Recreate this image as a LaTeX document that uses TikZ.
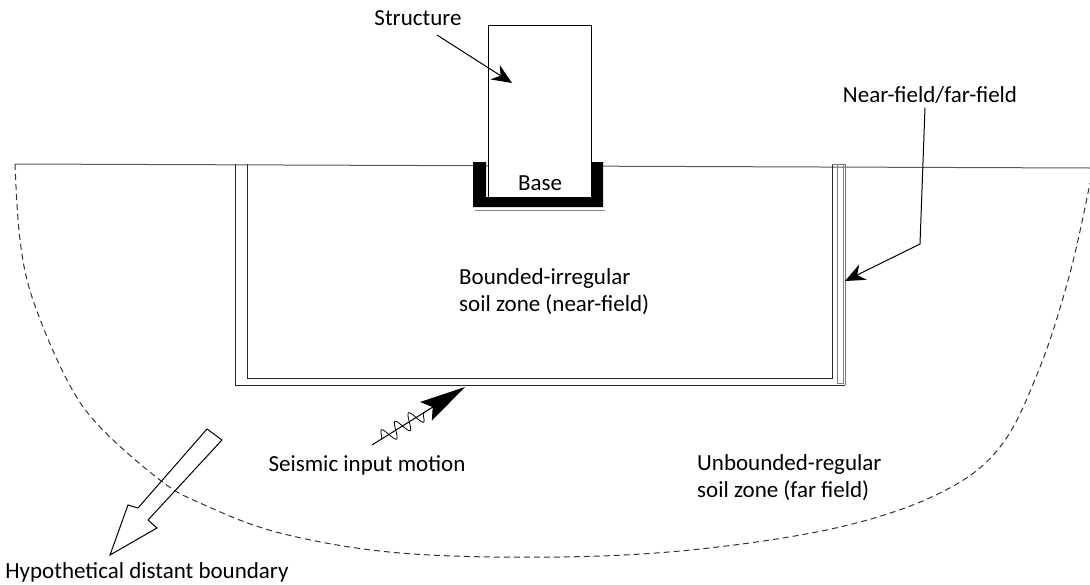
\documentclass[tikz,border=0pt]{standalone}
\usepackage{fontspec}
\setmainfont{Carlito}
\usetikzlibrary{arrows.meta,positioning,calc,decorations.pathmorphing}

\tikzset{
  lbl/.style={font=\fontsize{23}{27}\selectfont, inner sep=0pt},
  wall/.style={draw=black!85, line width=1pt},
  pointer/.style={-{Stealth[length=20pt,width=17pt]}, line width=1pt},
  farbound/.style={dash pattern=on 6pt off 4pt, line width=1pt, black!80}
}

\begin{document}
\begin{tikzpicture}[x=1pt,y=-1pt]
        \useasboundingbox (0,0) rectangle (1090,584);

        % Ground surface
        \draw[line width=1pt, black!65] (15,164) -- (1090,168);

        % Hypothetical distant boundary (dashed)
        \draw[farbound] plot[smooth, tension=0.6] coordinates {(15,164) (20,240) (33,300) (67,380) (100,427) (160,480) (200,503) (280,533) (400,553) (560,557) (700,549) (840,527) (940,493) (1000,447) (1040,367) (1070,273) (1090,183)};

        % Near-field box (walls)
        \draw[wall] (235,164) -- (235,385) -- (845,385);
        \draw[wall] (247,164) -- (247,378) -- (832,378) -- (832,164);
        \draw[wall, black!55] (832,164) -- (845,164) -- (845,385);
        \draw[line width=0.6pt, black!50] (837,164) -- (837,383) -- (843,383) -- (843,164);

        % Structure and base
        \node[draw, fill=white, line width=1pt, minimum width=103pt, minimum height=172pt, inner sep=0pt] (bldg) at (539.5,111) {};
        \fill[black] (473,162) -- (473,207) -- (603,207) -- (603,162) -- (591,162) -- (591,197) -- (486,197) -- (486,162) -- cycle;
        \draw[line width=0.6pt, black!50] (475,210) -- (605,210);
        \node[lbl] (base) at (540,183) {Base};

        % Labels
        \node[lbl] (structure) at (418,18) {Structure};
        \node[lbl] (interface) at (930,95) {Near-field/far-field};
        \node[lbl, align=left, anchor=west] (nearfield) at (459,292) {Bounded-irregular\\soil zone (near-field)};
        \node[lbl, align=left, anchor=west] (farfield) at (697,478) {Unbounded-regular\\soil zone (far field)};
        \node[lbl] (seismic) at (367,465) {Seismic input motion};
        \node[lbl] (distant) at (147,572) {Hypothetical distant boundary};

        % Pointers
        \coordinate (bldgpt) at (512,83);
        \draw[pointer] (437,35) -- (bldgpt);
        \coordinate (ifbend) at (920,244);
        \coordinate (ifwall) at (845,281);
        \draw[pointer] (interface.south -| 925,0) ++(0,4) -- (ifbend) -- (ifwall);

        % Seismic input motion (wave)
        \coordinate (stail) at (372,445);
        \coordinate (stip) at (465,387);
        \draw[-{Stealth[length=46pt,width=22pt,inset=8pt]}, line width=1pt] (stail) -- (stip);
        \draw[line width=0.8pt, decorate, decoration={snake, amplitude=8pt, segment length=16pt}] ($(stail)!0.1!(stip)$) -- ($(stail)!0.62!(stip)$);

        % Block arrow to distant boundary
        \draw[line width=1pt] (207,429) -- (222,440) -- (148,520) -- (157,528) -- (110,555) -- (128,505) -- (138,508) -- cycle;
    \end{tikzpicture}
\end{document}
